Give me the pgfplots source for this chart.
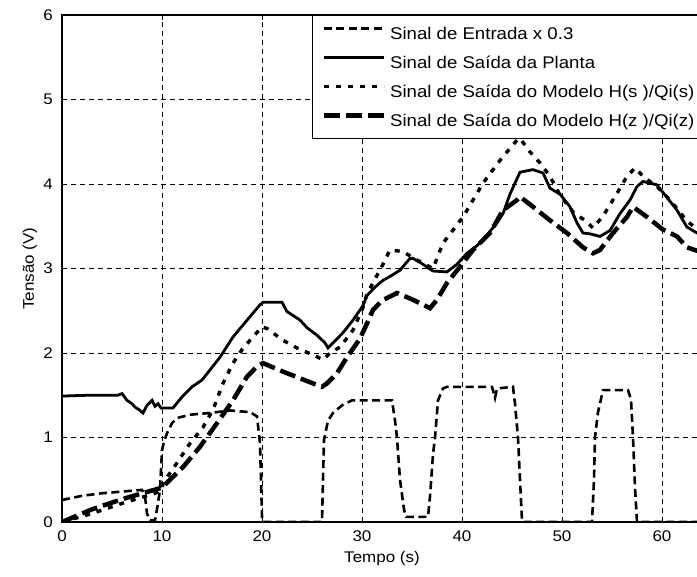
\documentclass[border=0pt]{standalone}
\usepackage{fontspec}
\setmainfont{Liberation Sans}[FakeStretch=1.1]
\usepackage{pgfplots}
\pgfplotsset{compat=1.18}

% values
\pgfplotstableread{
x y
0 0.26
2 0.31
4 0.34
6 0.36
8 0.38
8.3 0.3
8.5 0.1
8.8 0.02
9.3 0.02
9.5 0.15
9.8 0.38
10.0 0.85
10.2 0.95
10.5 1.05
11 1.17
11.5 1.23
12.8 1.27
14.8 1.29
16.8 1.32
18.8 1.30
19.5 1.25
19.8 0.93
20.0 0.06
20.1 0
26.0 0
26.1 0.5
26.2 0.97
26.6 1.2
27.1 1.29
28 1.38
29 1.44
33 1.44
33.3 1.2
33.5 1.0
33.8 0.5
34.2 0.15
34.4 0.06
36.6 0.06
36.8 0.3
37.1 0.8
37.3 1.0
37.6 1.44
38.1 1.58
38.5 1.60
43.0 1.60
43.3 1.47
43.5 1.58
45.1 1.60
45.3 1.4
45.6 1.0
45.8 0.5
46.0 0.02
46.1 0
53.0 0
53.2 0.5
53.3 1.0
53.6 1.3
54.1 1.56
56.6 1.56
56.9 1.45
57.1 1.0
57.3 0.41
57.5 0
64 0
}\entrada

\pgfplotstableread{
x y
0 1.49
2.6 1.50
5.6 1.50
6.0 1.52
6.5 1.44
7.0 1.40
7.3 1.36
7.7 1.33
8.1 1.29
8.5 1.38
9.0 1.44
9.3 1.37
9.6 1.40
9.9 1.35
11.1 1.35
12.0 1.48
13.0 1.60
14.0 1.68
15.0 1.83
15.8 1.95
17.1 2.19
18.8 2.43
19.8 2.57
20.1 2.60
22.0 2.60
22.5 2.49
23.8 2.39
24.5 2.30
25.5 2.21
26.3 2.12
26.6 2.06
27.1 2.12
28.1 2.24
29.1 2.39
30.1 2.56
30.5 2.68
31.3 2.78
32.1 2.86
33.0 2.92
33.8 2.98
34.8 3.12
35.1 3.12
36.1 3.05
37.1 2.97
38.5 2.96
39.5 3.05
40.5 3.18
41.5 3.27
42.1 3.34
43.5 3.54
44.1 3.65
44.8 3.88
45.8 4.14
47.1 4.17
48.1 4.13
48.8 3.95
49.8 3.88
50.8 3.73
51.5 3.54
52.1 3.42
52.8 3.41
53.8 3.38
54.8 3.45
55.8 3.65
56.8 3.81
57.5 3.97
58.1 4.03
59.5 3.99
60.5 3.84
61.5 3.69
62.5 3.49
63.5 3.42
64 3.40
}\planta

\pgfplotstableread{
x y
0 0.0
3 0.10
6 0.22
9.3 0.34
10.0 0.38
10.1 0.46
11.5 0.70
12.8 0.93
14.1 1.12
15.1 1.33
16.1 1.64
17.1 1.88
18.0 2.04
18.8 2.15
20.0 2.31
20.5 2.29
22.1 2.15
23.8 2.04
25.1 1.98
26.1 1.92
26.8 2.00
27.8 2.07
29.1 2.27
30.1 2.54
30.5 2.70
32.1 3.05
32.8 3.22
34.1 3.20
35.5 3.10
37.1 3.00
38.1 3.30
40.1 3.61
42.1 4.01
43.8 4.28
45.5 4.52
45.8 4.54
46.8 4.38
47.8 4.25
48.8 4.09
49.8 3.87
51.1 3.67
52.5 3.55
53.1 3.48
54.1 3.62
55.5 3.89
56.5 4.09
57.3 4.19
58.2 4.08
59.5 3.97
60.8 3.81
62.5 3.56
63.5 3.47
64 3.45
}\modelos

\pgfplotstableread{
x y
0 0.0
3 0.15
6 0.27
9.8 0.40
10.1 0.42
12.1 0.65
13.8 0.89
15.5 1.17
17.1 1.44
18.5 1.72
19.5 1.84
20.1 1.88
20.5 1.86
22.1 1.78
23.8 1.70
25.1 1.64
26.0 1.60
26.5 1.64
27.5 1.76
28.5 1.95
29.8 2.17
30.5 2.35
31.1 2.51
32.0 2.62
33.5 2.71
35.1 2.63
36.8 2.53
37.5 2.63
38.5 2.83
39.8 3.02
41.1 3.22
42.8 3.42
44.1 3.69
45.5 3.81
45.8 3.85
47.1 3.73
48.8 3.57
50.5 3.42
52.1 3.25
53.1 3.18
53.8 3.22
55.1 3.42
56.5 3.61
57.1 3.73
58.5 3.61
60.1 3.46
61.5 3.38
62.5 3.25
63.5 3.21
64 3.20
}\modeloz

\begin{document}
\begin{tikzpicture}
\begin{axis}[
  scale only axis,
  width=640bp, height=507bp,
  xmin=0, xmax=64, ymin=0, ymax=6,
  xtick={0,10,...,60}, ytick={0,1,...,6},
  tick align=inside,
  major tick length=5bp,
  tick style={black, line width=0.8bp},
  axis line style={line width=1.2bp},
  grid=major,
  major grid style={black, line width=0.8bp, dash pattern=on 5bp off 4bp},
  /pgf/number format/assume math mode=true,
  ticklabel style={font=\fontsize{15.5}{18}\selectfont},
  xticklabel style={inner sep=0pt, yshift=-9bp},
  yticklabel style={inner sep=0pt, xshift=-9bp},
  xlabel={Tempo (s)},
  ylabel={Tensão (V)},
  label style={font=\fontsize{15.5}{18}\selectfont, inner sep=0pt},
  xlabel style={at={(axis description cs:0.5,-0.057)}, anchor=north},
  ylabel style={at={(axis description cs:-0.05,0.5)}, anchor=center},
  legend cell align=left,
  legend style={
    at={(rel axis cs:0.3906,1)}, anchor=north west,
    draw=black, line width=1.2bp, fill=white,
    inner xsep=9bp, inner ysep=10bp,
    row sep=13bp, column sep=4bp,
    font=\fontsize{17}{20}\selectfont,
    nodes={inner sep=0bp, text height=14bp, text depth=2bp},
  },
  legend image code/.code={\draw[#1] (0bp,5bp) -- (60bp,5bp);},
]
\addplot[black, line width=2.6bp, dash pattern=on 8bp off 4.5bp] table {\entrada};
\addlegendentry{Sinal de Entrada x 0.3}
\addplot[black, line width=2.8bp] table {\planta};
\addlegendentry{Sinal de Saída da Planta}
\addplot[black, line width=3.4bp, dash pattern=on 5bp off 7bp] table {\modelos};
\addlegendentry{Sinal de Saída do Modelo H(s )/Qi(s)}
\addplot[black, line width=4.5bp, dash pattern=on 16bp off 6bp] table {\modeloz};
\addlegendentry{Sinal de Saída do Modelo H(z )/Qi(z)}
\end{axis}
\pgfresetboundingbox
\path (current axis.south west) ++(-62bp,-55bp) rectangle ++(697bp,577bp);
\end{tikzpicture}
\end{document}
